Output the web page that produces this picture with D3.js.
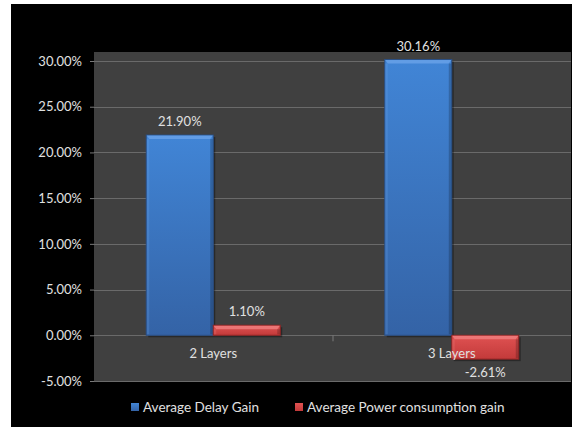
<!DOCTYPE html>
<html><head><meta charset="utf-8">
<script src="https://cdn.jsdelivr.net/npm/d3@7"></script>
<style>body{margin:0;background:#fff}svg{display:block}text{font-family:Lato,"Open Sans",sans-serif}</style>
</head><body>
<script>
const categories = ["2 Layers", "3 Layers"];
const seriesNames = ["Average Delay Gain", "Average Power consumption gain"];
const delayGain = [21.90, 30.16];
const powerGain = [1.10, -2.61];
const yTicks = [-5, 0, 5, 10, 15, 20, 25, 30];

const W = 585, H = 427;
const svg = d3.select("body").append("svg").attr("width", W).attr("height", H);
const defs = svg.append("defs");

function grad(id, stops, vertical) {
  const g = defs.append("linearGradient").attr("id", id)
    .attr("x1", 0).attr("y1", 0).attr("x2", vertical ? 0 : 1).attr("y2", vertical ? 1 : 0);
  stops.forEach(s => g.append("stop").attr("offset", s[0]).attr("stop-color", s[1]));
}
grad("gBlue", [[0, "#4185d6"], [1, "#3463a6"]], true);
grad("gRed", [[0, "#e05252"], [1, "#c23a3a"]], true);

svg.append("rect").attr("x", 11).attr("y", 4).attr("width", 561).attr("height", 430).attr("fill", "#000");

const plot = {l: 94, r: 571, t: 52, b: 381};
svg.append("rect").attr("x", plot.l).attr("y", plot.t).attr("width", plot.r - plot.l).attr("height", plot.b - plot.t).attr("fill", "#404040");

const y = d3.scaleLinear().domain([-5, 30]).range([381, 61]);
const x0 = d3.scaleBand().domain(categories).range([plot.l, plot.r]).paddingInner(0).paddingOuter(0);
const x1 = d3.scaleBand().domain(seriesNames).range([0, x0.bandwidth()]).paddingOuter(0.78).paddingInner(0);

// gridlines
svg.append("g").selectAll("line").data(yTicks).join("line")
  .attr("x1", plot.l).attr("x2", plot.r)
  .attr("y1", d => Math.round(y(d)) + 0.5).attr("y2", d => Math.round(y(d)) + 0.5)
  .attr("stroke", "#6a6a6a").attr("stroke-width", 1.2);

// y axis
const yAxis = d3.axisLeft(y).tickValues(yTicks).tickSize(4).tickPadding(8)
  .tickFormat(d => d.toFixed(2) + "%");
const ga = svg.append("g").attr("transform", `translate(${plot.l},0)`).call(yAxis);
ga.select(".domain").remove();
ga.selectAll("line").attr("stroke", "#7a7a7a");
ga.selectAll("text").attr("fill", "#e0e0e0").attr("font-size", 13);

// category tick between categories
svg.append("line").attr("x1", x0(categories[1]) + 0.5).attr("x2", x0(categories[1]) + 0.5)
  .attr("y1", y(0)).attr("y2", y(0) + 6).attr("stroke", "#7a7a7a");

const data = [];
categories.forEach((c, i) => {
  data.push({cat: c, s: seriesNames[0], v: delayGain[i], fill: "url(#gBlue)", edge: "#2a4f85", hi: "#6aa3e8"});
  data.push({cat: c, s: seriesNames[1], v: powerGain[i], fill: "url(#gRed)", edge: "#8c2424", hi: "#f08080"});
});

const bars = svg.append("g").selectAll("g").data(data).join("g");
bars.each(function(d) {
  const g = d3.select(this);
  const bx = x0(d.cat) + x1(d.s), bw = x1.bandwidth();
  const top = y(Math.max(0, d.v)), bot = y(Math.min(0, d.v));
  g.append("rect").attr("x", bx + 2).attr("y", top + 2).attr("width", bw).attr("height", bot - top)
    .attr("fill", "rgba(0,0,0,0.35)");
  g.append("rect").attr("x", bx).attr("y", top).attr("width", bw).attr("height", bot - top)
    .attr("fill", d.fill).attr("stroke", d.edge).attr("stroke-width", 1);
  const bh = Math.min(4, (bot - top) / 2);
  g.append("path").attr("d", `M${bx + 0.5},${top + 0.5}L${bx + bw - 0.5},${top + 0.5}L${bx + bw - 3},${top + bh}L${bx + 3},${top + bh}Z`)
    .attr("fill", d.hi).attr("opacity", 0.8);
  g.append("rect").attr("x", bx + 0.5).attr("y", top + bh).attr("width", 2.5).attr("height", Math.max(0, bot - top - bh - 1))
    .attr("fill", d.hi).attr("opacity", 0.25);
  g.append("rect").attr("x", bx + bw - 3).attr("y", top + bh).attr("width", 2.5).attr("height", Math.max(0, bot - top - bh - 1))
    .attr("fill", "#000").attr("opacity", 0.2);
  const ly = d.v >= 0 ? top - 9 : bot + 18;
  g.append("text").attr("x", bx + bw / 2).attr("y", ly).attr("text-anchor", "middle")
    .attr("fill", "#e0e0e0").attr("font-size", 13).text(d.v.toFixed(2) + "%");
});

// category labels
svg.append("g").selectAll("text").data(categories).join("text")
  .attr("x", d => x0(d) + x0.bandwidth() / 2).attr("y", y(0) + 23)
  .attr("text-anchor", "middle").attr("fill", "#e0e0e0").attr("font-size", 13).text(d => d);

// legend
const legend = [{n: seriesNames[0], f: "url(#gBlue)", x: 131}, {n: seriesNames[1], f: "url(#gRed)", x: 295}];
const lg = svg.append("g").selectAll("g").data(legend).join("g").attr("transform", d => `translate(${d.x},403)`);
lg.append("rect").attr("width", 8).attr("height", 8).attr("fill", d => d.f);
lg.append("text").attr("x", 12).attr("y", 8.5).attr("fill", "#e0e0e0").attr("font-size", 13.5).text(d => d.n);
</script>
</body></html>
